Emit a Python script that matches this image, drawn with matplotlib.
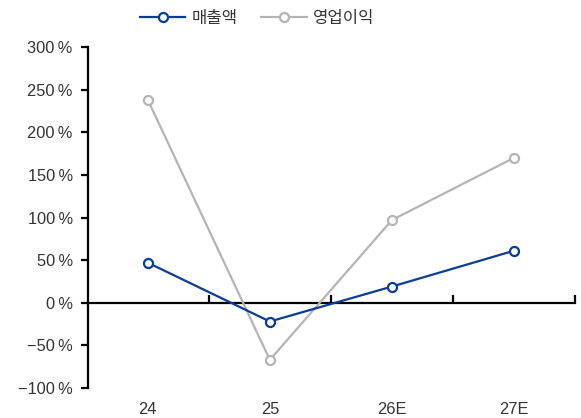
import matplotlib
matplotlib.use("Agg")
import matplotlib.pyplot as plt
from matplotlib.ticker import FuncFormatter

plt.rcParams['font.family'] = ['Liberation Sans', 'Noto Sans CJK KR', 'DejaVu Sans']

categories = ["24", "25", "26E", "27E"]
sales_growth = [47, -22, 19, 61]        # 매출액 (%)
op_profit_growth = [238, -67, 97, 170]  # 영업이익 (%)
y_ticks = [-100, -50, 0, 50, 100, 150, 200, 250, 300]

blue = "#0a3d96"
gray = "#b4b4b4"
text_color = "#333333"

fig = plt.figure(figsize=(5.81, 4.18), dpi=100)
ax = fig.add_axes([88 / 581, 30 / 418, 487 / 581, 341 / 418])

x = list(range(len(categories)))
ax.plot(x, sales_growth, color=blue, lw=1.6, marker='o', ms=6.5,
        mfc='white', mec=blue, mew=1.6, label="매출액", zorder=4)
ax.plot(x, op_profit_growth, color=gray, lw=1.6, marker='o', ms=6.5,
        mfc='white', mec=gray, mew=1.6, label="영업이익", zorder=3)

ax.set_xlim(-0.49, len(categories) - 0.5)
ax.set_ylim(-100, 300)
ax.set_yticks(y_ticks)


def pct(v, pos):
    s = f"{abs(int(v))}\u2009%"
    return ("\u2212" + s) if v < 0 else s


ax.yaxis.set_major_formatter(FuncFormatter(pct))
ax.set_xticks(x)
ax.set_xticklabels(categories)

for s in ['top', 'right', 'bottom']:
    ax.spines[s].set_visible(False)
ax.spines['left'].set_linewidth(1.6)
ax.spines['left'].set_color('black')

ax.tick_params(axis='y', direction='out', length=5, width=1.6,
               labelsize=11.8, labelcolor=text_color, pad=6)
ax.tick_params(axis='x', length=0, labelsize=11.8, labelcolor=text_color, pad=10)

# zero line with category boundary ticks
zero_axis = ax.secondary_xaxis(0.25)
zero_axis.spines['bottom'].set_linewidth(1.6)
zero_axis.set_xticks([i + 0.5 for i in x])
zero_axis.tick_params(direction='in', length=6, width=1.6, labelbottom=False)

leg = fig.legend(loc='upper center', bbox_to_anchor=(0.442, 1.012), ncol=2,
                 frameon=False, fontsize=12, handlelength=2.75,
                 columnspacing=1.4, handletextpad=0.35)
for t in leg.get_texts():
    t.set_color(text_color)
    t.set_family(['Noto Sans CJK KR', 'DejaVu Sans'])

fig.savefig("out.png", dpi=100)
